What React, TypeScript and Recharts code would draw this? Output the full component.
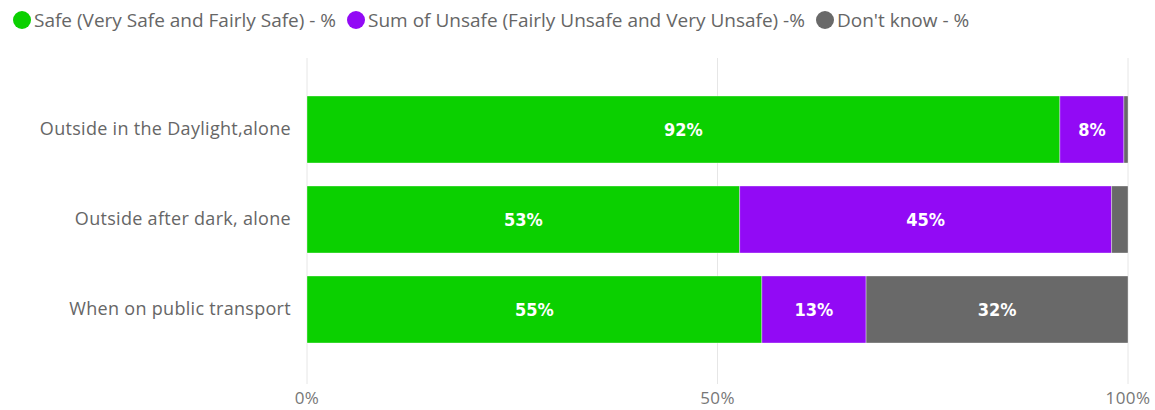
import React from 'react';
import {
  BarChart,
  Bar,
  XAxis,
  YAxis,
  CartesianGrid,
  LabelList
} from 'recharts';

const categories = [
  'Outside in the Daylight,alone',
  'Outside after dark, alone',
  'When on public transport'
];
const safeValues = [91.7, 52.7, 55.4];
const unsafeValues = [7.8, 45.3, 12.7];
const dontKnowValues = [0.5, 2.0, 31.9];
const xTicks = [0, 50, 100];

const series = [
  { id: 'safe', name: 'Safe (Very Safe and Fairly Safe) - %', color: '#0bd000' },
  { id: 'unsafe', name: 'Sum of Unsafe (Fairly Unsafe and Very Unsafe) -%', color: '#920af5' },
  { id: 'dontKnow', name: "Don't know - %", color: '#696969' }
];

const data = categories.map((name, i) => ({
  name,
  safe: safeValues[i],
  unsafe: unsafeValues[i],
  dontKnow: dontKnowValues[i]
}));

const labelFont = '"DejaVu Sans Condensed", "DejaVu Sans", sans-serif';
const textFont = '"Open Sans", "Noto Sans", sans-serif';

// small slices (the grey sliver on the first two bars) get no label
const formatLabel = (v: any) => (Number(v) < 4 ? '' : `${Math.round(Number(v))}%`);

export default function App() {
  return (
    <div style={{ position: 'absolute', left: 0, top: 0, width: 1155, height: 410, background: '#fff' }}>
      <div
        style={{
          position: 'absolute',
          left: 13,
          top: 7,
          display: 'flex',
          alignItems: 'center',
          fontFamily: textFont,
          fontSize: 19,
          color: '#666',
          whiteSpace: 'nowrap'
        }}
      >
        {series.map(s => (
          <div key={s.id} style={{ display: 'flex', alignItems: 'center', marginRight: 11 }}>
            <span
              style={{
                display: 'inline-block',
                width: 18,
                height: 18,
                borderRadius: '50%',
                background: s.color,
                marginRight: 3
              }}
            />
            <span>{s.name}</span>
          </div>
        ))}
      </div>
      <BarChart
        width={1155}
        height={410}
        data={data}
        layout="vertical"
        margin={{ top: 58, right: 27, bottom: 0, left: 0 }}
      >
        <CartesianGrid horizontal={false} stroke="#e6e6e6" />
        <XAxis
          type="number"
          domain={[0, 100]}
          ticks={xTicks}
          tickFormatter={v => `${v}%`}
          tickLine={false}
          axisLine={false}
          height={26}
          tickMargin={2}
          tick={{ fill: '#777', fontSize: 17, letterSpacing: 0.4, fontFamily: textFont }}
        />
        <YAxis
          type="category"
          dataKey="name"
          width={307}
          tickLine={false}
          axisLine={false}
          tickMargin={10}
          padding={{ top: 26, bottom: 30 }}
          tick={{ fill: '#666', fontSize: 18, letterSpacing: 0.3, fontFamily: textFont }}
        />
        {series.map(s => (
          <Bar
            key={s.id}
            dataKey={s.id}
            name={s.name}
            stackId="a"
            fill={s.color}
            barSize={67}
            stroke="#ffffff"
            strokeOpacity={0.35}
            strokeWidth={1}
            isAnimationActive={false}
          >
            <LabelList
              dataKey={s.id}
              position="center"
              formatter={formatLabel}
              fill="#ffffff"
              fontSize={18}
              fontWeight="bold"
              fontFamily={labelFont}
            />
          </Bar>
        ))}
      </BarChart>
    </div>
  );
}
